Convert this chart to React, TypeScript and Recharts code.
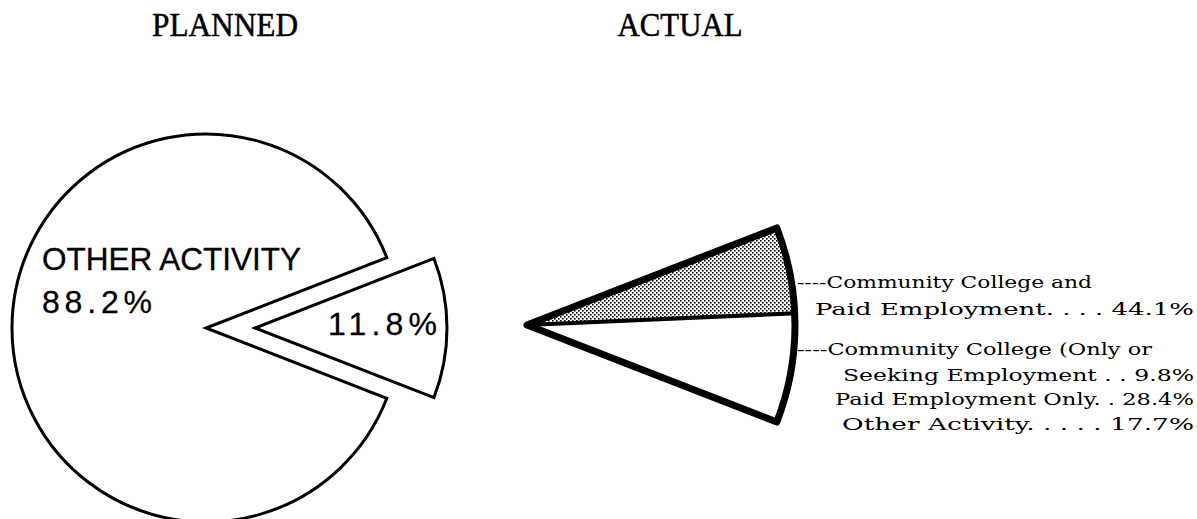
import { PieChart, Pie, Cell } from "recharts";

// planned split: the program group vs everything else
const plannedLabels = ["Program Group", "OTHER ACTIVITY"];
const plannedValues = [11.8, 88.2];

// actual outcomes of the program group
const actualLabels = [
  "Community College and Paid Employment",
  "Community College (Only or Seeking Employment",
  "Paid Employment Only",
  "Other Activity",
];
const actualValues = [44.1, 9.8, 28.4, 17.7];

const titles = ["PLANNED", "ACTUAL"];

const SERIF = "'Liberation Serif', 'Times New Roman', serif";
const SANS = "'Liberation Sans', Arial, sans-serif";
const TYPE = "'DejaVu Serif', serif";

function mainLabel(p: any) {
  if (p.index !== 1) return null;
  return (
    <g>
      <text x={p.cx - 164} y={p.cy - 58} fontFamily={SANS} fontSize={31} textLength={259}
        lengthAdjust="spacingAndGlyphs" fill="#000" stroke="#000" strokeWidth={0.3}>{plannedLabels[1]}</text>
      <text x={p.cx - 164} y={p.cy - 15} fontFamily={SANS} fontSize={32} textLength={110}
        lengthAdjust="spacing" fill="#000" stroke="#000" strokeWidth={0.3}>{`${plannedValues[1]}%`}</text>
    </g>
  );
}

function sliceLabel(p: any) {
  if (p.index !== 0) return null;
  return (
    <text x={p.cx + 73} y={p.cy + 7} fontFamily={SANS} fontSize={32} textLength={109}
      lengthAdjust="spacing" fill="#000" stroke="#000" strokeWidth={0.3}>{`${plannedValues[0]}%`}</text>
  );
}

export default function App() {
  const planned = plannedLabels.map((name, i) => ({ name, value: plannedValues[i] }));
  const actual = actualLabels.map((name, i) => ({ name, value: actualValues[i] }));
  const slice = [{ name: plannedLabels[0], value: plannedValues[0] }];
  const half = (plannedValues[0] / 100) * 180;

  const legend = [
    { text: "----Community College and", x: 797, y: 288, len: 295, anchor: "start" },
    { text: `Paid Employment. . . . ${actualValues[0]}%`, x: 1194, y: 315, len: 379, anchor: "end" },
    { text: "----Community College (Only or", x: 797, y: 355, len: 355, anchor: "start" },
    { text: `Seeking Employment . . ${actualValues[1]}%`, x: 1194, y: 381, len: 351, anchor: "end" },
    { text: `Paid Employment Only. . ${actualValues[2]}%`, x: 1194, y: 405, len: 359, anchor: "end" },
    { text: `Other Activity. . . . . ${actualValues[3]}%`, x: 1194, y: 430, len: 352, anchor: "end" },
  ];

  return (
    <div style={{ position: "absolute", left: 0, top: 0, background: "#fff" }}>
      <PieChart width={1197} height={519} margin={{ top: 0, right: 0, bottom: 0, left: 0 }}>
        <defs>
          <pattern id="dots" width="4" height="4" patternUnits="userSpaceOnUse">
            <rect width="4" height="4" fill="#fff" />
            <rect x="0" y="0" width="1.6" height="1.6" fill="#000" />
            <rect x="2" y="2" width="1.6" height="1.6" fill="#000" />
          </pattern>
        </defs>

        {/* planned: main pie */}
        <Pie data={planned} dataKey="value" cx={206} cy={328} outerRadius={194}
          startAngle={-half} endAngle={360 - half} isAnimationActive={false}
          label={mainLabel} labelLine={false}>
          <Cell fill="none" stroke="none" />
          <Cell fill="#fff" stroke="#000" strokeWidth={3} />
        </Pie>
        {/* planned: exploded slice */}
        <Pie data={planned} dataKey="value" cx={255} cy={328} outerRadius={192}
          startAngle={-half} endAngle={360 - half} isAnimationActive={false}
          label={sliceLabel} labelLine={false}>
          <Cell fill="#fff" stroke="#000" strokeWidth={3} />
          <Cell fill="none" stroke="none" />
        </Pie>

        {/* actual: slice blown up */}
        <Pie data={actual} dataKey="value" cx={527} cy={325} outerRadius={268}
          startAngle={half} endAngle={-half} isAnimationActive={false}>
          <Cell fill="url(#dots)" stroke="none" />
          <Cell fill="#fff" stroke="none" />
          <Cell fill="#fff" stroke="none" />
          <Cell fill="#fff" stroke="none" />
        </Pie>
        <Pie data={actual} dataKey="value" cx={527} cy={325} outerRadius={268}
          startAngle={half} endAngle={-half} isAnimationActive={false}>
          <Cell fill="none" stroke="#000" strokeWidth={4} />
          <Cell fill="none" stroke="none" />
          <Cell fill="none" stroke="none" />
          <Cell fill="none" stroke="none" />
        </Pie>
        <Pie data={slice} dataKey="value" cx={527} cy={325} outerRadius={268}
          startAngle={half} endAngle={-half} isAnimationActive={false}
          fill="none" stroke="#000" strokeWidth={7} strokeLinejoin="round" />

        <text x={225} y={36} textAnchor="middle" fontFamily={SERIF} fontSize={33}
          textLength={146} lengthAdjust="spacingAndGlyphs" fill="#000"
          stroke="#000" strokeWidth={0.5}>{titles[0]}</text>
        <text x={680} y={36} textAnchor="middle" fontFamily={SERIF} fontSize={33}
          textLength={125} lengthAdjust="spacingAndGlyphs" fill="#000"
          stroke="#000" strokeWidth={0.5}>{titles[1]}</text>

        {legend.map((l, i) => (
          <text key={i} x={l.x} y={l.y} textAnchor={l.anchor} fontFamily={TYPE} fontSize={17}
            textLength={l.len} lengthAdjust="spacingAndGlyphs" fill="#000">{l.text}</text>
        ))}
      </PieChart>
    </div>
  );
}
